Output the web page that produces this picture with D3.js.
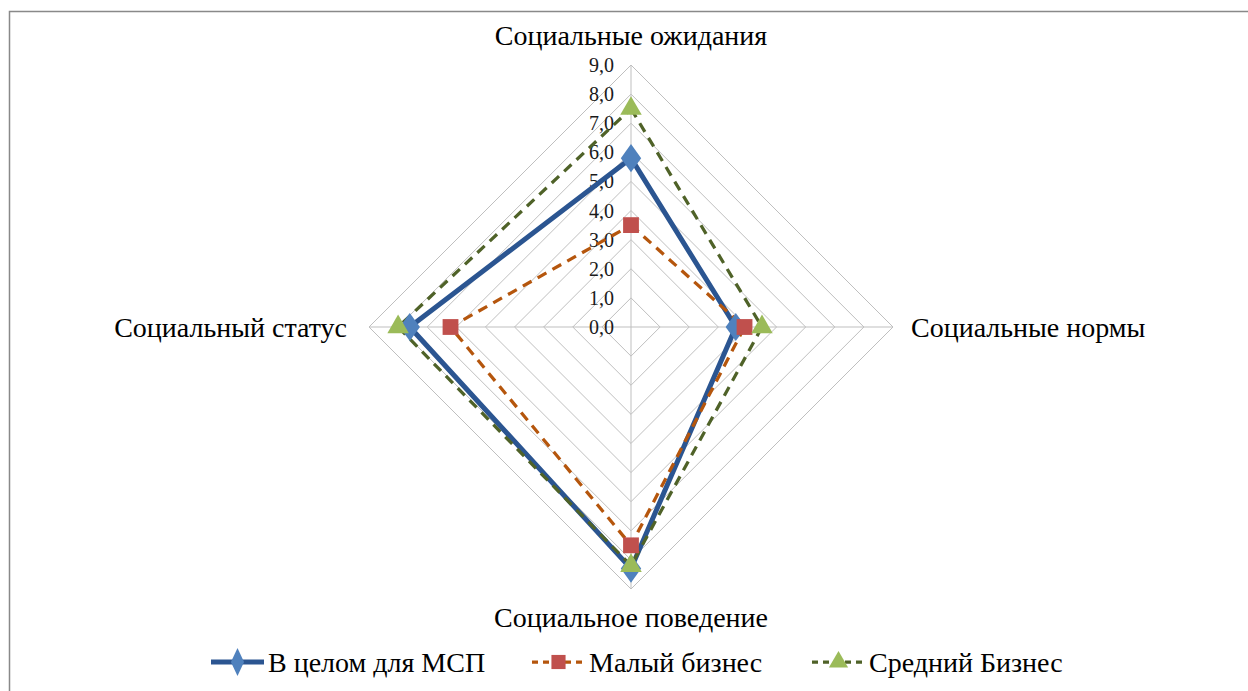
<!DOCTYPE html>
<html>
<head>
<meta charset="utf-8">
<script src="https://cdn.jsdelivr.net/npm/d3@7"></script>
<style>
body { margin: 0; background: #fff; }
</style>
</head>
<body>
<div id="radar"></div>
<script>
var categories = ["Социальные ожидания", "Социальные нормы", "Социальное поведение", "Социальный статус"];
var seriesNames = ["В целом для МСП", "Малый бизнес", "Средний Бизнес"];
var msp = [5.8, 3.6, 8.3, 7.6];
var small = [3.5, 3.9, 7.5, 6.2];
var medium = [7.5, 4.5, 8.2, 8.0];
var ticks = [0, 1, 2, 3, 4, 5, 6, 7, 8, 9];

var width = 1248, height = 691;
var cx = 631, cy = 327;
var serif = "'Liberation Serif'";

var svg = d3.select("#radar").append("svg")
    .attr("width", width)
    .attr("height", height);

svg.append("rect")
    .attr("x", 9.5).attr("y", 11.5)
    .attr("width", 1260).attr("height", 700)
    .style("fill", "#fff")
    .style("stroke", "#898989")
    .style("stroke-width", 1.5);

var r = d3.scaleLinear().domain([0, 9]).range([0, 262]);
var angle = d3.scalePoint().domain(categories).range([0, 2 * Math.PI * 3 / 4]);

function pt(cat, v) {
    var a = angle(cat);
    return [cx + r(v) * Math.sin(a), cy - r(v) * Math.cos(a)];
}

var chart = svg.append("g").attr("class", "radar-g");

// grid rings
chart.selectAll(".ring")
    .data(ticks.slice(1))
    .enter().append("polygon")
    .attr("class", "ring")
    .attr("points", function(t) {
        return categories.map(function(c) { return pt(c, t).join(","); }).join(" ");
    })
    .style("fill", "none")
    .style("stroke", "#bfbfbf")
    .style("stroke-width", 1);

// spokes
chart.selectAll(".spoke")
    .data(categories)
    .enter().append("line")
    .attr("class", "spoke")
    .attr("x1", cx).attr("y1", cy)
    .attr("x2", function(c) { return pt(c, 9)[0]; })
    .attr("y2", function(c) { return pt(c, 9)[1]; })
    .style("stroke", "#bfbfbf")
    .style("stroke-width", 1);

// tick labels
chart.selectAll(".tick-label")
    .data(ticks)
    .enter().append("text")
    .attr("class", "tick-label")
    .attr("x", cx - 17)
    .attr("y", function(t) { return cy - r(t); })
    .attr("dy", "0.35em")
    .style("font-family", serif)
    .style("text-anchor", "end")
    .style("font-size", "20px")
    .style("fill", "#1a1a1a")
    .text(function(t) { return t.toFixed(1).replace(".", ","); });

// category labels
var labelPos = [
    {dx: 0, dy: -30, anchor: "middle"},
    {dx: 18, dy: 0, anchor: "start"},
    {dx: 0, dy: 28, anchor: "middle"},
    {dx: -22, dy: 0, anchor: "end"}
];
chart.selectAll(".cat-label")
    .data(categories)
    .enter().append("text")
    .attr("class", "cat-label")
    .attr("x", function(c, i) { return pt(c, 9)[0] + labelPos[i].dx; })
    .attr("y", function(c, i) { return pt(c, 9)[1] + labelPos[i].dy; })
    .attr("dy", "0.35em")
    .style("font-family", serif)
    .style("text-anchor", function(c, i) { return labelPos[i].anchor; })
    .style("font-size", "28px")
    .style("fill", "#000")
    .text(function(c) { return c; });

var styles = [
    {line: "#2b5591", marker: "#4f81bd", width: 5, dash: null, shape: d3.symbolDiamond, size: 230},
    {line: "#b5560d", marker: "#c0504d", width: 3.25, dash: "10,7", shape: d3.symbolSquare, size: 250},
    {line: "#4f6228", marker: "#9bbb59", width: 3.25, dash: "10,7", shape: d3.symbolTriangle, size: 200}
];
var seriesData = [msp, small, medium];

var lineGen = d3.line().curve(d3.curveLinearClosed);

seriesData.forEach(function(vals, si) {
    var s = styles[si];
    var pts = vals.map(function(v, i) { return pt(categories[i], v); });
    chart.append("path")
        .attr("d", lineGen(pts))
        .style("fill", "none")
        .style("stroke", s.line)
        .style("stroke-width", s.width)
        .style("stroke-dasharray", s.dash)
        .style("stroke-linejoin", "round");
});
seriesData.forEach(function(vals, si) {
    var s = styles[si];
    var pts = vals.map(function(v, i) { return pt(categories[i], v); });
    chart.selectAll(".marker-" + si)
        .data(pts)
        .enter().append("path")
        .attr("class", "marker-" + si)
        .attr("transform", function(p) {
            return "translate(" + p[0] + "," + p[1] + ")" + (si == 0 ? " scale(1.25,1)" : "");
        })
        .attr("d", d3.symbol().type(s.shape).size(s.size))
        .style("fill", s.marker);
});

// legend
var legendX = [211, 532, 812];
var legend = svg.append("g").attr("class", "legend");
seriesNames.forEach(function(name, i) {
    var s = styles[i];
    var g = legend.append("g").attr("transform", "translate(" + legendX[i] + ",662)");
    g.append("line")
        .attr("x1", 0).attr("x2", 53)
        .style("stroke", s.line)
        .style("stroke-width", s.width)
        .style("stroke-dasharray", s.dash ? "6,5" : null);
    g.append("path")
        .attr("transform", "translate(26.5,0)" + (i == 0 ? " scale(0.9,1.1)" : ""))
        .attr("d", d3.symbol().type(s.shape).size(s.size * 0.8))
        .style("fill", s.marker);
    g.append("text")
        .attr("x", 57)
        .attr("dy", "0.35em")
        .style("font-family", serif)
        .style("font-size", "28px")
        .style("fill", "#000")
        .text(name);
});
</script>
</body>
</html>
